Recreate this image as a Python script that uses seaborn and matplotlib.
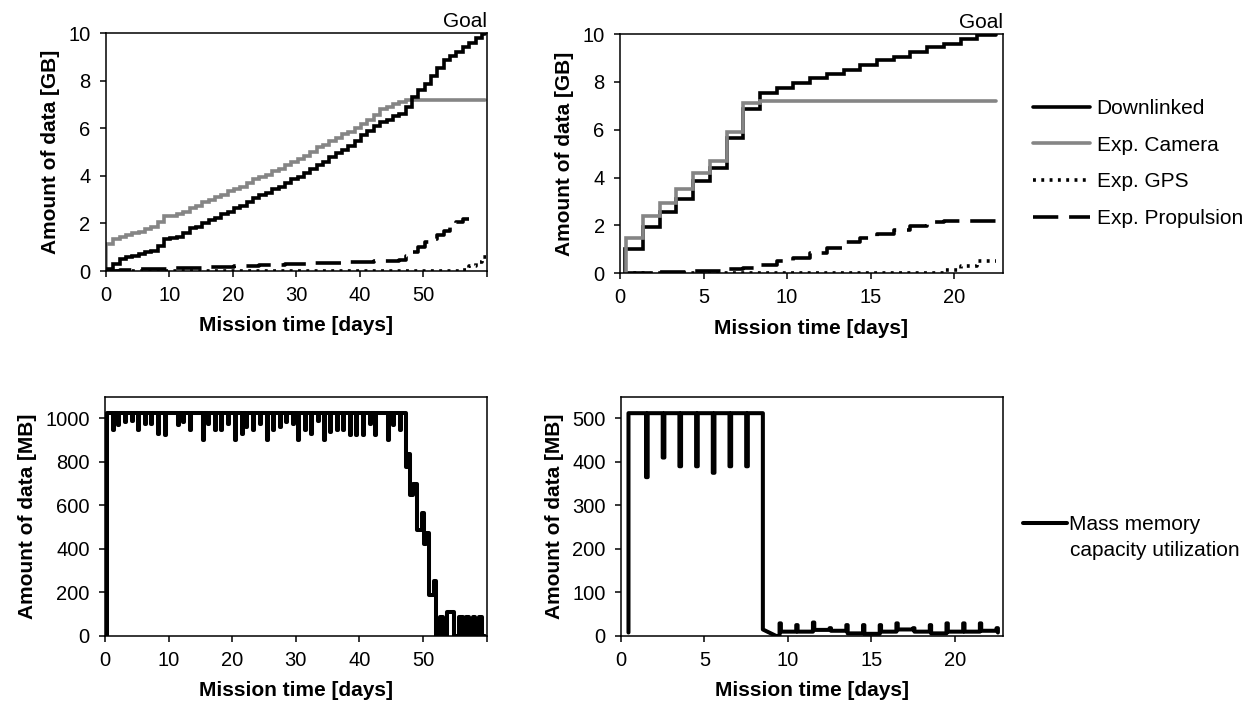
import numpy as np
import pandas as pd
import matplotlib
matplotlib.use("Agg")
import matplotlib.pyplot as plt
import seaborn as sns
from matplotlib.lines import Line2D

# ---------------- data ----------------
# Top-left scenario (60 days), one value per daily step
TL_DOWN = [0.10, 0.30, 0.50, 0.60, 0.65, 0.72, 0.78, 0.85, 1.05, 1.35,
           1.40, 1.45, 1.60, 1.80, 1.85, 2.00, 2.15, 2.25, 2.40, 2.50,
           2.65, 2.75, 2.90, 3.05, 3.20, 3.30, 3.45, 3.55, 3.70, 3.85,
           3.95, 4.10, 4.30, 4.45, 4.60, 4.80, 4.95, 5.10, 5.25, 5.45,
           5.70, 5.90, 6.10, 6.25, 6.35, 6.50, 6.60, 6.90, 7.30, 7.60,
           7.85, 8.20, 8.55, 8.85, 9.05, 9.20, 9.40, 9.60, 9.80, 9.97]
TL_CAM = [1.15, 1.35, 1.45, 1.50, 1.60, 1.65, 1.75, 1.85, 2.05, 2.30,
          2.32, 2.38, 2.50, 2.65, 2.75, 2.90, 3.00, 3.10, 3.20, 3.35,
          3.45, 3.55, 3.70, 3.85, 3.95, 4.05, 4.20, 4.30, 4.45, 4.60,
          4.70, 4.85, 5.00, 5.20, 5.30, 5.45, 5.60, 5.75, 5.85, 6.00,
          6.20, 6.35, 6.55, 6.80, 6.90, 7.00, 7.10, 7.20, 7.20, 7.20,
          7.20, 7.20, 7.20, 7.20, 7.20, 7.20, 7.20, 7.20, 7.20, 7.20]
TL_PROP = [0.00, 0.02, 0.03, 0.05, 0.06, 0.07, 0.08, 0.09, 0.09, 0.10,
           0.11, 0.11, 0.12, 0.13, 0.14, 0.15, 0.16, 0.17, 0.18, 0.19,
           0.20, 0.21, 0.22, 0.23, 0.24, 0.25, 0.26, 0.27, 0.28, 0.29,
           0.30, 0.31, 0.32, 0.33, 0.34, 0.35, 0.35, 0.36, 0.37, 0.38,
           0.39, 0.40, 0.41, 0.42, 0.43, 0.44, 0.46,
           0.65, 0.80, 1.00, 1.20, 1.35, 1.50, 1.70, 1.85, 2.05, 2.20, 2.20]
TL_GPS = [0.0] * 56 + [0.04, 0.20, 0.40, 0.58]

# Top-right scenario (~22.5 days)
TR_DOWN = [1.00, 1.95, 2.55, 3.10, 3.85, 4.40, 5.65, 6.85, 7.55, 7.75, 7.95,
           8.15, 8.35, 8.50, 8.70, 8.90, 9.05, 9.25, 9.45, 9.60, 9.80, 9.97]
TR_CAM = [1.45, 2.40, 2.95, 3.50, 4.20, 4.70, 5.90, 7.10, 7.20, 7.20, 7.20,
          7.20, 7.20, 7.20, 7.20, 7.20, 7.20, 7.20, 7.20, 7.20, 7.20, 7.20]
TR_PROP = [0.00, 0.01, 0.03, 0.05, 0.07, 0.10, 0.17, 0.22, 0.33, 0.50, 0.65,
           0.85, 1.05, 1.30, 1.45, 1.62, 1.80, 1.98, 2.12, 2.20, 2.20, 2.20]
TR_GPS = [0.0] * 19 + [0.12, 0.30, 0.52]

# Bottom-left memory (MB): full at 1024, dips at passes, then emptied
BL_FULL = 1024
BL_SPIKE_T = [1.3, 2.1, 3.1, 4.2, 5.2, 6.3, 7.3, 8.4, 9.4, 11.5, 12.3, 13.3,
              15.4, 16.2, 17.3, 18.3, 19.4, 20.4, 21.5, 22.2, 23.3, 24.3,
              25.4, 26.4, 27.5, 28.5, 29.6, 30.4, 31.4, 32.4, 33.5, 34.5,
              35.3, 36.4, 37.4, 38.5, 39.5, 40.6, 41.6, 42.4, 44.5, 45.3, 46.3]
BL_SPIKE_V = [945, 970, 985, 990, 945, 975, 975, 930, 925, 968, 983, 945,
              899, 975, 945, 945, 975, 899, 930, 960, 945, 975,
              899, 945, 960, 983, 975, 899, 945, 930, 990, 899,
              937, 945, 945, 922, 922, 922, 975, 922, 899, 968, 945]
BL_TAIL_T = [47.3, 47.7, 48.0, 48.4, 49.0, 49.9, 50.1, 50.5, 51.0, 51.7, 52.1,
             52.7, 53.2, 53.8, 54.9, 55.7, 56.2, 56.7, 57.2, 57.8, 58.2, 58.8, 59.3]
BL_TAIL_V = [777, 838, 647, 700, 486, 563, 425, 474, 188, 254, 0,
             86, 0, 112, 0, 86, 0, 86, 0, 86, 0, 89, 0]

# Bottom-right memory (MB): full at 512
BR_FULL = 512
BR_SPIKE_T = [1.5, 2.5, 3.5, 4.5, 5.5, 6.5, 7.5]
BR_SPIKE_V = [365, 410, 390, 390, 375, 390, 390]
BR_DROP_T, BR_DROP_V = 8.5, 15
BR_LOW_T = [9.5, 10.5, 11.5, 12.5, 13.5, 14.5, 15.5, 16.5, 17.5, 18.5,
            19.5, 20.5, 21.5, 22.5]
BR_LOW_PEAK = [29, 25, 31, 18, 25, 25, 25, 29, 18, 25, 29, 29, 29, 18]
BR_LOW_BASE = [10, 10, 14, 12, 6, 5, 10, 15, 10, 6, 10, 10, 12, 8]

# ---------------- helpers ----------------
def step_df(start, values, t_end, lead=None):
    t, v = [], []
    if lead is not None:
        t.append(lead[0]); v.append(lead[1])
    for i, val in enumerate(values):
        ti = start[i]
        if v:
            t.append(ti); v.append(v[-1])
        t.append(ti); v.append(val)
    t.append(t_end); v.append(v[-1])
    return pd.DataFrame({"t": t, "v": v})


def add_step(pts, t, v):
    pts.append((t, pts[-1][1]))
    pts.append((t, v))


GREY = "#858585"
LW = 2.6

sns.set_theme(style="ticks")
plt.rcParams["font.family"] = ["Liberation Sans", "DejaVu Sans"]
for key in ["text.color", "axes.labelcolor", "xtick.color", "ytick.color", "axes.edgecolor"]:
    plt.rcParams[key] = "black"
TICK_FS = 14.5
LAB_FS = 15
LEG_FS = 15

fig = plt.figure(figsize=(12.55, 7.04), dpi=100)
ax_tl = fig.add_axes([0.0842, 0.615, 0.3038, 0.338])
ax_tr = fig.add_axes([0.4940, 0.612, 0.3050, 0.3395])
ax_bl = fig.add_axes([0.0837, 0.0966, 0.3041, 0.340])
ax_br = fig.add_axes([0.4948, 0.0966, 0.3046, 0.340])

dash = (0, (7.0, 3.0))
dot = (0, (0.8, 1.5))

# ---- top-left ----
tl_t = [k + 0.2 for k in range(60)]
d_down = step_df(tl_t, TL_DOWN, 59.7, lead=(0.0, 0.0))
d_cam = step_df([0.1] + tl_t[1:], TL_CAM, 59.7, lead=(0.1, 0.0))
d_prop = step_df(tl_t[:len(TL_PROP)], TL_PROP, 57.2)
d_gps = step_df(tl_t, TL_GPS, 59.8)
for d, c, ls in [(d_prop, "black", dash), (d_gps, "black", dot),
                 (d_cam, GREY, "-"), (d_down, "black", "-")]:
    sns.lineplot(data=d, x="t", y="v", ax=ax_tl, sort=False, estimator=None,
                 color=c, lw=LW, linestyle=ls, solid_joinstyle="miter")

# ---- top-right ----
tr_t = [0.3] + [k + 0.38 for k in range(1, 22)]
r_down = step_df(tr_t, TR_DOWN, 22.5, lead=(0.3, 0.0))
r_cam = step_df([0.35] + tr_t[1:], TR_CAM, 22.5, lead=(0.35, 0.0))
r_prop = step_df(tr_t, TR_PROP, 22.5)
r_gps = step_df(tr_t, TR_GPS, 22.5)
for d, c, ls in [(r_prop, "black", dash), (r_gps, "black", dot),
                 (r_down, "black", "-"), (r_cam, GREY, "-")]:
    sns.lineplot(data=d, x="t", y="v", ax=ax_tr, sort=False, estimator=None,
                 color=c, lw=LW, linestyle=ls, solid_joinstyle="miter")

# ---- bottom-left ----
pts = [(0.3, 0.0), (0.3, BL_FULL)]
for ts, dv in zip(BL_SPIKE_T, BL_SPIKE_V):
    add_step(pts, ts, dv)
    add_step(pts, ts + 0.15, BL_FULL)
for ts, dv in zip(BL_TAIL_T, BL_TAIL_V):
    add_step(pts, ts, dv)
pts.append((59.8, pts[-1][1]))
bl = pd.DataFrame(pts, columns=["t", "v"])
sns.lineplot(data=bl, x="t", y="v", ax=ax_bl, sort=False, estimator=None,
             color="black", lw=LW + 0.3)

# ---- bottom-right ----
pts = [(0.45, 8.0), (0.45, BR_FULL)]
for ts, dv in zip(BR_SPIKE_T, BR_SPIKE_V):
    add_step(pts, ts, dv)
    add_step(pts, ts + 0.1, BR_FULL)
add_step(pts, BR_DROP_T, BR_DROP_V)
pts.append((9.3, 0.0))
for ts, pk, bs in zip(BR_LOW_T, BR_LOW_PEAK, BR_LOW_BASE):
    add_step(pts, ts, pk)
    add_step(pts, ts + 0.08, bs)
br = pd.DataFrame(pts, columns=["t", "v"])
sns.lineplot(data=br, x="t", y="v", ax=ax_br, sort=False, estimator=None,
             color="black", lw=LW + 0.3)

# ---------------- axes styling ----------------
def style(ax, xlim, xticks, xlabels, ylim, yticks, ylabel):
    ax.set_xlim(*xlim)
    ax.set_ylim(*ylim)
    ax.set_xticks(xticks)
    ax.set_xticklabels(xlabels)
    ax.set_yticks(yticks)
    ax.set_yticklabels([str(y) for y in yticks])
    for s in ax.spines.values():
        s.set_visible(True)
        s.set_color("black")
        s.set_linewidth(1.1)
    ax.tick_params(direction="out", length=4.5, width=1.1, colors="black",
                   labelsize=TICK_FS, pad=6.5)
    ax.set_xlabel("Mission time [days]", fontsize=LAB_FS, fontweight="bold",
                  labelpad=8)
    ax.set_ylabel(ylabel, fontsize=LAB_FS, fontweight="bold", labelpad=6)
    ax.set_facecolor("white")
    ax.grid(False)


style(ax_tl, (0, 60), list(range(0, 61, 10)), ["0", "10", "20", "30", "40", "50", ""],
      (0, 10), list(range(0, 11, 2)), "Amount of data [GB]")
style(ax_tr, (0, 22.9), [0, 5, 10, 15, 20], ["0", "5", "10", "15", "20"],
      (0, 10), list(range(0, 11, 2)), "Amount of data [GB]")
style(ax_bl, (0, 60), list(range(0, 61, 10)), ["0", "10", "20", "30", "40", "50", ""],
      (0, 1100), list(range(0, 1001, 200)), "Amount of data [MB]")
style(ax_br, (0, 22.9), [0, 5, 10, 15, 20], ["0", "5", "10", "15", "20"],
      (0, 550), list(range(0, 501, 100)), "Amount of data [MB]")

for ax in (ax_tl, ax_tr):
    ax.text(1.0, 1.01, "Goal", transform=ax.transAxes, ha="right", va="bottom",
            fontsize=LEG_FS)

# ---------------- legends ----------------
handles = [Line2D([], [], color="black", lw=LW),
           Line2D([], [], color=GREY, lw=LW),
           Line2D([], [], color="black", lw=LW, linestyle=dot),
           Line2D([], [], color="black", lw=LW, linestyle=dash)]
labels = ["Downlinked", "Exp. Camera", "Exp. GPS", "Exp. Propulsion"]
fig.legend(handles, labels, loc="center left", bbox_to_anchor=(1033 / 1255, 1 - 163.5 / 704),
           frameon=False, fontsize=LEG_FS, handlelength=2.75, handletextpad=0.3,
           labelspacing=0.85, borderpad=0, borderaxespad=0)

fig.legend([Line2D([], [], color="black", lw=LW + 0.3)], ["Mass memory"],
           loc="center left", bbox_to_anchor=(1023 / 1255, 1 - 525 / 704),
           frameon=False, fontsize=LEG_FS, handlelength=2.1, handletextpad=0.12,
           borderpad=0, borderaxespad=0)
fig.text(1070 / 1255, 1 - 550 / 704, "capacity utilization", fontsize=LEG_FS,
         ha="left", va="center")

fig.savefig("out.png", dpi=100, facecolor="white")
